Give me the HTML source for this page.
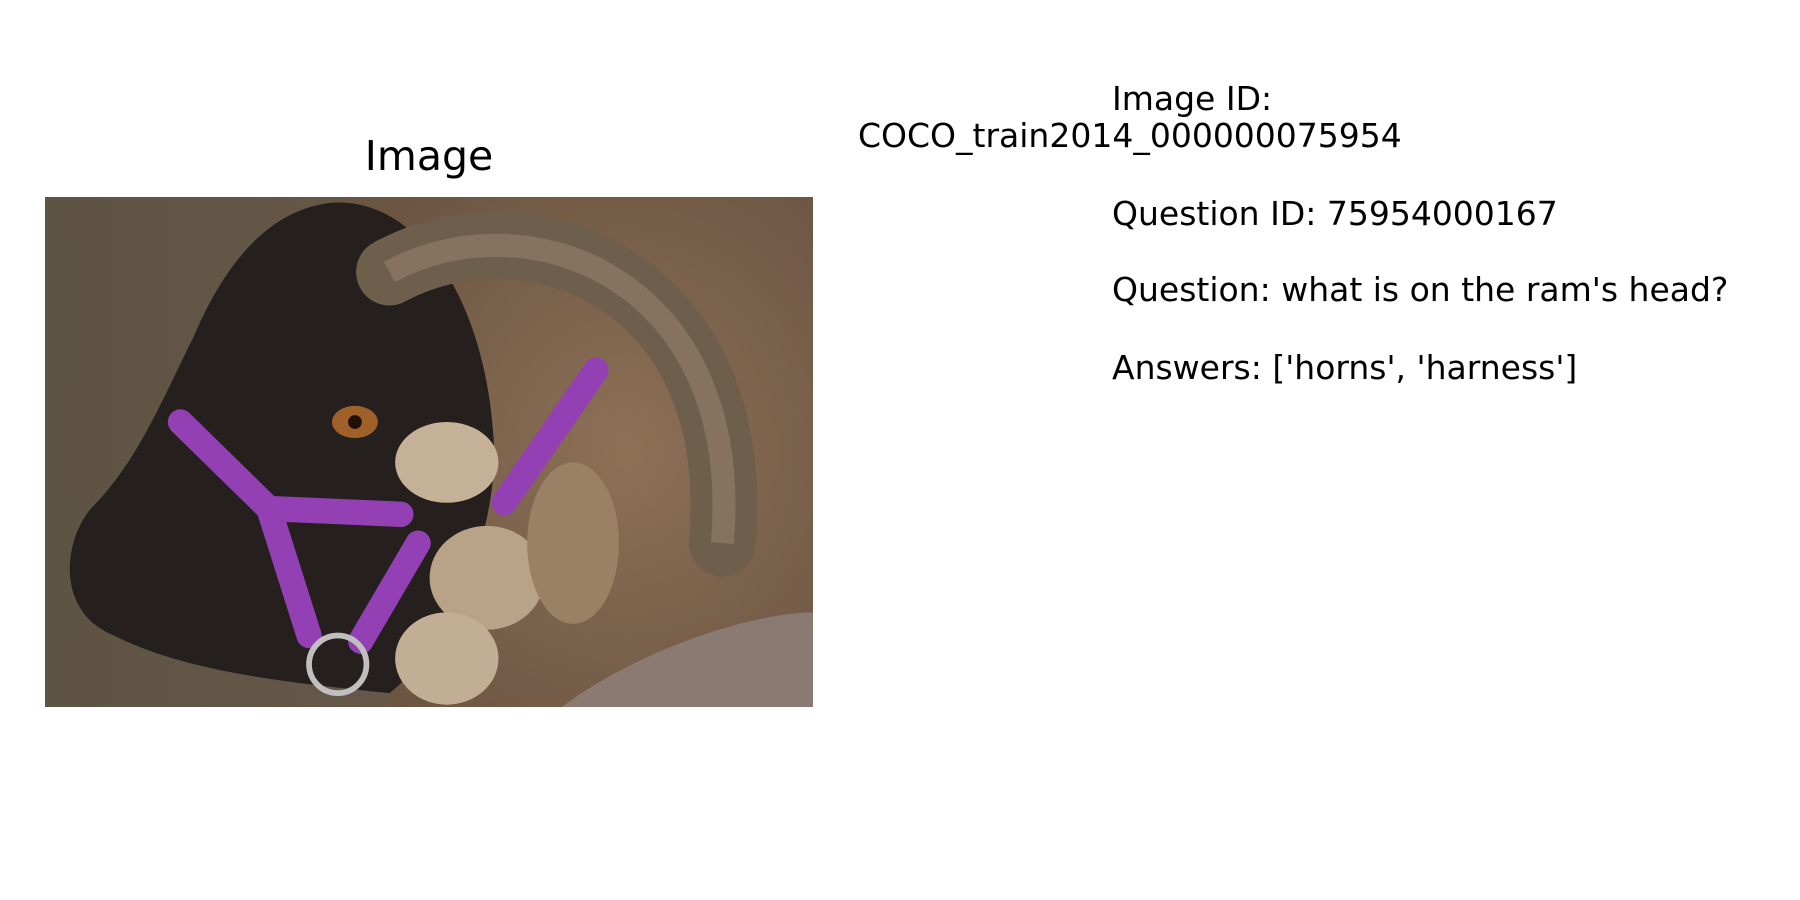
<!DOCTYPE html>
<html><head><meta charset="utf-8"><style>
html,body{margin:0;padding:0;background:#fff;}
#root{position:relative;width:1800px;height:900px;overflow:hidden;font-family:"DejaVu Sans","Liberation Sans",sans-serif;color:#000;}
.t{position:absolute;white-space:nowrap;font-size:33px;line-height:1;}
</style></head><body>
<div id="root">
<div class="t" style="left:0;width:858px;text-align:center;top:136px;font-size:41px;">Image</div>
<svg style="position:absolute;left:45px;top:197px;" width="768" height="510" viewBox="0 0 669 442" preserveAspectRatio="none">
<defs>
<linearGradient id="bg" x1="0" x2="1"><stop offset="0" stop-color="#5e5444"/><stop offset="1" stop-color="#6e5c4c"/></linearGradient>
<radialGradient id="wool" cx="0.6" cy="0.5" r="0.7"><stop offset="0" stop-color="#8d7056"/><stop offset="1" stop-color="#6a5442"/></radialGradient>
</defs>
<rect width="669" height="442" fill="url(#bg)"/>
<path d="M260,0 L669,0 L669,442 L300,442 Z" fill="url(#wool)"/>
<path d="M450,442 C520,390 620,360 669,360 L669,442 Z" fill="#8a7a72"/>
<path d="M250,5 C320,0 380,80 390,200 C400,300 340,400 300,430 C200,420 120,410 60,380 C10,360 15,300 40,270 C80,230 100,180 130,120 C160,50 200,10 250,5 Z" fill="#25201d"/>
<path d="M300,65 C420,0 610,70 590,300" fill="none" stroke="#6e5e4c" stroke-width="58" stroke-linecap="round"/>
<path d="M300,65 C420,0 610,70 590,300" fill="none" stroke="#857360" stroke-width="20"/>
<ellipse cx="350" cy="230" rx="45" ry="35" fill="#c5b197"/>
<ellipse cx="385" cy="330" rx="50" ry="45" fill="#b8a288"/>
<ellipse cx="350" cy="400" rx="45" ry="40" fill="#c2ae94"/>
<ellipse cx="460" cy="300" rx="40" ry="70" fill="#9a8064"/>
<ellipse cx="270" cy="195" rx="20" ry="14" fill="#a0602a"/>
<circle cx="270" cy="195" r="6" fill="#201008"/>
<g fill="none" stroke="#9340b4" stroke-width="22" stroke-linecap="round">
<path d="M118,195 L195,270 L310,275"/>
<path d="M195,270 L230,380"/>
<path d="M325,300 L275,385"/>
<path d="M400,265 L480,150"/>
</g>
<circle cx="255" cy="405" r="25" fill="none" stroke="#bfbfbf" stroke-width="5"/>
</svg>
<div class="t" style="left:1112px;top:82px;">Image ID:</div>
<div class="t" style="left:858px;top:119px;">COCO_train2014_000000075954</div>
<div class="t" style="left:1112px;top:197px;">Question ID: 75954000167</div>
<div class="t" style="left:1112px;top:273px;">Question: what is on the ram's head?</div>
<div class="t" style="left:1112px;top:351px;">Answers: ['horns', 'harness']</div>
</div>
</body></html>
